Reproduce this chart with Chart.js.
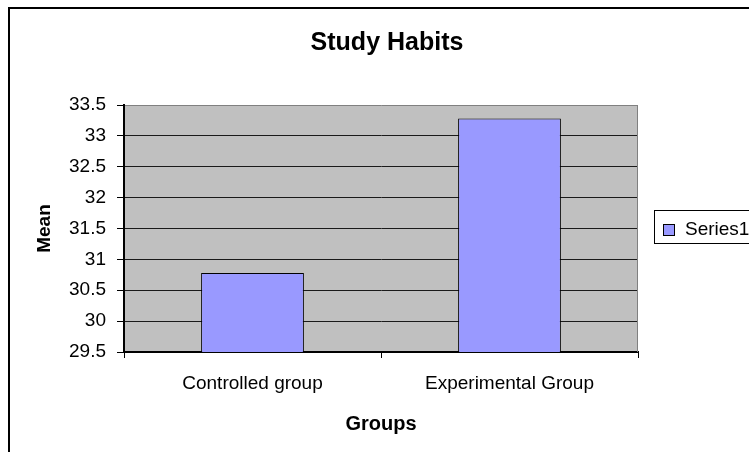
<!DOCTYPE html>
<html>
<head>
<meta charset="utf-8">
<script src="https://cdn.jsdelivr.net/npm/chart.js@4.4.0/dist/chart.umd.min.js"></script>
<style>
  body { margin: 0; background: #fff; }
  #wrap { width: 749px; height: 452px; }
</style>
</head>
<body>
<div id="wrap"><canvas id="habitsChart" width="749" height="452"></canvas></div>
<script>
// dados do grafico
const groups = ['Controlled group', 'Experimental Group'];
const meanValues = [30.78, 33.28];
const seriesName = 'Series1';
const yMin = 29.5;
const yMax = 33.5;
const yStep = 0.5;

const FONT = "'Liberation Sans', Arial, sans-serif";

// fundo cinza + moldura + titulo + legenda
const excelLook = {
    id: 'excelLook',
    beforeDraw(chart) {
        const { ctx, chartArea: a } = chart;
        ctx.save();
        ctx.fillStyle = '#fff';
        ctx.fillRect(0, 0, chart.width, chart.height);
        ctx.fillStyle = '#c0c0c0';
        ctx.fillRect(a.left, a.top, a.right - a.left, a.bottom - a.top);
        ctx.restore();
    },
    afterDatasetsDraw(chart) {
        const { ctx, chartArea: a } = chart;
        ctx.save();
        // borda direita do plot
        ctx.strokeStyle = '#808080';
        ctx.lineWidth = 1;
        ctx.beginPath();
        ctx.moveTo(a.right - 0.5, a.top);
        ctx.lineTo(a.right - 0.5, a.bottom);
        ctx.stroke();
        ctx.restore();
    },
    afterDraw(chart) {
        const { ctx } = chart;
        ctx.save();
        // moldura externa
        ctx.strokeStyle = '#000';
        ctx.lineWidth = 2;
        ctx.beginPath();
        ctx.moveTo(9, 460);
        ctx.lineTo(9, 8);
        ctx.lineTo(760, 8);
        ctx.stroke();

        // titulo
        ctx.fillStyle = '#000';
        ctx.font = 'bold 25px ' + FONT;
        ctx.textAlign = 'center';
        ctx.textBaseline = 'alphabetic';
        ctx.fillText('Study Habits', 387, 50);

        // legenda
        ctx.lineWidth = 1;
        ctx.strokeRect(654.5, 210.5, 120, 33);
        ctx.fillStyle = '#9999ff';
        ctx.fillRect(663, 224, 12, 12);
        ctx.strokeRect(663.5, 224.5, 11, 11);
        ctx.fillStyle = '#000';
        ctx.font = '19px ' + FONT;
        ctx.textAlign = 'left';
        ctx.fillText(seriesName, 685, 235);
        ctx.restore();
    }
};

const ctxHabits = document.getElementById('habitsChart').getContext('2d');
const habitsChart = new Chart(ctxHabits, {
    type: 'bar',
    data: {
        labels: groups,
        datasets: [{
            label: seriesName,
            data: meanValues,
            backgroundColor: '#9999ff',
            borderColor: '#000',
            borderWidth: 1,
            barPercentage: 0.4,
            categoryPercentage: 1
        }]
    },
    options: {
        responsive: false,
        animation: false,
        layout: { padding: { left: 0, top: 105, right: 111, bottom: 0 } },
        plugins: {
            legend: { display: false },
            title: { display: false },
            tooltip: { enabled: false }
        },
        scales: {
            x: {
                afterFit: (scale) => { scale.height = 100; },
                grid: {
                    offset: true,
                    drawOnChartArea: false,
                    tickLength: 6,
                    color: '#000',
                    lineWidth: 1
                },
                border: { color: '#000', width: 2 },
                ticks: {
                    color: '#000',
                    padding: 14,
                    font: { family: FONT, size: 19 }
                },
                title: {
                    display: true,
                    text: 'Groups',
                    color: '#000',
                    font: { family: FONT, size: 20, weight: 'bold' },
                    padding: { top: 0, bottom: 16 }
                }
            },
            y: {
                min: yMin,
                max: yMax,
                afterFit: (scale) => { scale.width = 124; },
                grid: {
                    color: (c) => c.tick && c.tick.value === yMax ? '#808080' : '#1a1a1a',
                    tickColor: '#000',
                    tickLength: 7,
                    lineWidth: 1
                },
                border: { color: '#000', width: 2 },
                ticks: {
                    stepSize: yStep,
                    color: '#000',
                    padding: 11,
                    font: { family: FONT, size: 19 },
                    callback: (v) => v
                },
                title: {
                    display: true,
                    text: 'Mean',
                    color: '#000',
                    font: { family: FONT, size: 19, weight: 'bold' },
                    padding: { top: 33, bottom: 0 }
                }
            }
        }
    },
    plugins: [excelLook]
});
</script>
</body>
</html>
